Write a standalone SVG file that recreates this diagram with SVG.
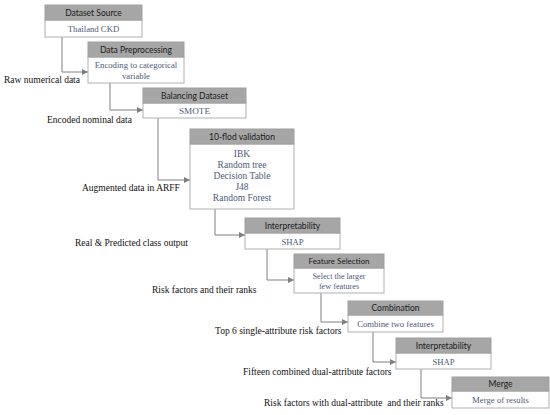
<svg xmlns="http://www.w3.org/2000/svg" width="550" height="415" viewBox="0 0 550 415">
<defs>
<style>
.hd{fill:#a6a6a6;stroke:#a0a0a0;stroke-width:1}
.bd{fill:#ffffff;stroke:#b0b0b0;stroke-width:1}
.ht{font-family:Lato,"Liberation Sans",Arial,sans-serif;font-size:8.5px;fill:#1a1a1a;text-anchor:middle}
.bt{font-family:"Liberation Serif","Times New Roman",serif;font-size:8.7px;fill:#4d5a78;text-anchor:middle}
.lb{font-family:"Liberation Serif","Times New Roman",serif;font-size:9.5px;fill:#111}
.cn{fill:none;stroke:#7f7f7f;stroke-width:1}
</style>
<marker id="ah" viewBox="0 0 10 10" refX="10" refY="5" markerWidth="6" markerHeight="6" orient="auto" markerUnits="userSpaceOnUse">
<path d="M0,0 L10,5 L0,10 z" fill="#7f7f7f"/>
</marker>
</defs>
<rect width="550" height="415" fill="#ffffff"/>
<g id="connectors">
<path class="cn" d="M62,37 V72 H88" marker-end="url(#ah)"/>
<path class="cn" d="M110,83 V110 H143" marker-end="url(#ah)"/>
<path class="cn" d="M158,118 V180 H190" marker-end="url(#ah)"/>
<path class="cn" d="M215,209 V235 H245" marker-end="url(#ah)"/>
<path class="cn" d="M267,249 V280 H294" marker-end="url(#ah)"/>
<path class="cn" d="M321,293 V322 H348" marker-end="url(#ah)"/>
<path class="cn" d="M373,332 V362 H396" marker-end="url(#ah)"/>
<path class="cn" d="M421,369 V398 H452" marker-end="url(#ah)"/>
</g>
<g id="labels">
<text class="lb" x="4" y="83">Raw numerical data</text>
<text class="lb" x="47" y="123">Encoded nominal data</text>
<text class="lb" x="82" y="191">Augmented data in ARFF</text>
<text class="lb" x="75" y="246">Real &amp; Predicted class output</text>
<text class="lb" x="152" y="293">Risk factors and their ranks</text>
<text class="lb" x="215" y="334">Top 6 single-attribute risk factors</text>
<text class="lb" x="243" y="375">Fifteen combined dual-attribute factors</text>
<text class="lb" x="264" y="406" xml:space="preserve">Risk factors with dual-attribute  and their ranks</text>
</g>
<g id="dataset-source">
<rect class="bd" x="45" y="20" width="97" height="17"/>
<rect class="hd" x="45" y="5" width="97" height="15"/>
<text class="ht" x="93.5" y="15.5">Dataset Source</text>
<text class="bt" x="93.5" y="32">Thailand CKD</text>
</g>
<g id="data-preprocessing">
<rect class="bd" x="88" y="57" width="96" height="26"/>
<rect class="hd" x="88" y="42" width="96" height="15"/>
<text class="ht" x="136" y="52.5">Data Preprocessing</text>
<text class="bt" x="136" y="68">Encoding to categorical</text>
<text class="bt" x="136" y="78.5">variable</text>
</g>
<g id="balancing-dataset">
<rect class="bd" x="143" y="103" width="103" height="15"/>
<rect class="hd" x="143" y="88" width="103" height="15"/>
<text class="ht" x="194.5" y="98.5">Balancing Dataset</text>
<text class="bt" x="194.5" y="114" style="font-size:9.2px">SMOTE</text>
</g>
<g id="validation">
<rect class="bd" x="190" y="144" width="104" height="65"/>
<rect class="hd" x="190" y="129" width="104" height="15"/>
<text class="ht" x="242" y="139.5">10-flod validation</text>
<g style="font-size:9.5px">
<text class="bt" x="242" y="157" style="font-size:9.5px">IBK</text>
<text class="bt" x="242" y="168" style="font-size:9.5px">Random tree</text>
<text class="bt" x="242" y="179" style="font-size:9.5px">Decision Table</text>
<text class="bt" x="242" y="190" style="font-size:9.5px">J48</text>
<text class="bt" x="242" y="201" style="font-size:9.5px">Random Forest</text>
</g>
</g>
<g id="interpretability-1">
<rect class="bd" x="245" y="233" width="95" height="16"/>
<rect class="hd" x="245" y="218" width="95" height="15"/>
<text class="ht" x="292.5" y="228.5">Interpretability</text>
<text class="bt" x="292.5" y="244.5">SHAP</text>
</g>
<g id="feature-selection">
<rect class="bd" x="294" y="268" width="90" height="25"/>
<rect class="hd" x="294" y="254" width="90" height="14"/>
<text class="ht" x="339" y="264" style="font-size:8px">Feature Selection</text>
<text class="bt" x="339" y="279" style="font-size:8.2px">Select the larger</text>
<text class="bt" x="339" y="288.5" style="font-size:8.2px">few features</text>
</g>
<g id="combination">
<rect class="bd" x="348" y="315" width="95" height="17"/>
<rect class="hd" x="348" y="301" width="95" height="14"/>
<text class="ht" x="395.5" y="311">Combination</text>
<text class="bt" x="395.5" y="327">Combine two features</text>
</g>
<g id="interpretability-2">
<rect class="bd" x="396" y="353" width="95" height="16"/>
<rect class="hd" x="396" y="338" width="95" height="15"/>
<text class="ht" x="443.5" y="348.5">Interpretability</text>
<text class="bt" x="443.5" y="364.5">SHAP</text>
</g>
<g id="merge">
<rect class="bd" x="452" y="391" width="97" height="17"/>
<rect class="hd" x="452" y="377" width="97" height="14"/>
<text class="ht" x="500.5" y="387">Merge</text>
<text class="bt" x="500.5" y="403">Merge of results</text>
</g>
</svg>
